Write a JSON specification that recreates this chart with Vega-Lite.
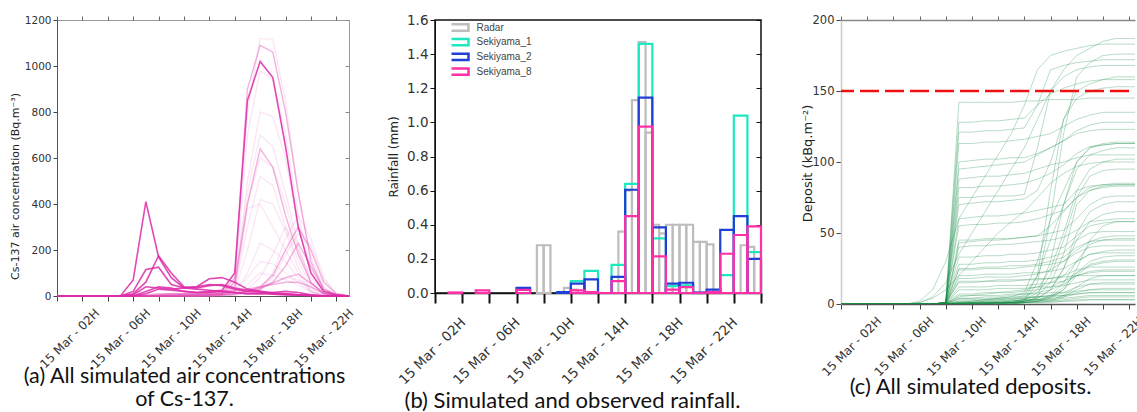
{
"$schema": "https://vega.github.io/schema/vega-lite/v6.json",
"background": "white",
"padding": {"left": 8, "top": 12, "right": 0, "bottom": 0},
"config": {
  "font": "DejaVu Sans",
  "view": {"stroke": null},
  "axis": {"labelFont": "DejaVu Sans", "labelColor": "#333", "titleFont": "DejaVu Sans", "titleColor": "#222", "titleFontWeight": "normal", "grid": false, "labelOverlap": false, "labelFlush": false, "labelBound": false}
},
"datasets": {
"conc": [
{"t":0,"a1":0,"a2":0,"a3":0,"a4":0,"a5":0,"a6":0,"m1":0,"m2":0,"m3":0,"m4":0,"m5":0,"m6":0,"f1":0,"f2":0,"f3":0,"f4":0,"f5":0,"f6":0,"f7":0,"f8":0,"f9":0,"f10":0,"f11":0,"f12":0,"f13":0,"f14":0,"f15":0},
{"t":4,"a1":0,"a2":0,"a3":0,"a4":0,"a5":0,"a6":0,"m1":0,"m2":0,"m3":0,"m4":0,"m5":0,"m6":0,"f1":0,"f2":0,"f3":0,"f4":0,"f5":0,"f6":0,"f7":0,"f8":0,"f9":0,"f10":0,"f11":0,"f12":0,"f13":0,"f14":0,"f15":0},
{"t":5,"a1":0,"a2":0,"a3":0,"a4":0,"a5":0,"a6":0,"m1":0,"m2":0,"m3":0,"m4":0,"m5":0,"m6":0,"f1":0,"f2":0,"f3":0,"f4":0,"f5":0,"f6":0,"f7":0,"f8":0,"f9":0,"f10":0,"f11":0,"f12":0,"f13":0,"f14":0,"f15":0},
{"t":6,"a1":70,"a2":20,"a3":10,"a4":5,"a5":0,"a6":0,"m1":0,"m2":0,"m3":0,"m4":0,"m5":0,"m6":0,"f1":0,"f2":0,"f3":0,"f4":0,"f5":0,"f6":0,"f7":0,"f8":0,"f9":0,"f10":0,"f11":0,"f12":0,"f13":0,"f14":0,"f15":0},
{"t":7,"a1":410,"a2":115,"a3":60,"a4":40,"a5":20,"a6":10,"m1":5,"m2":0,"m3":0,"m4":0,"m5":0,"m6":0,"f1":0,"f2":0,"f3":0,"f4":0,"f5":0,"f6":0,"f7":0,"f8":0,"f9":0,"f10":0,"f11":0,"f12":0,"f13":0,"f14":0,"f15":0},
{"t":8,"a1":170,"a2":125,"a3":175,"a4":35,"a5":40,"a6":30,"m1":10,"m2":5,"m3":0,"m4":0,"m5":0,"m6":5,"f1":0,"f2":0,"f3":0,"f4":0,"f5":0,"f6":0,"f7":0,"f8":0,"f9":0,"f10":0,"f11":0,"f12":0,"f13":0,"f14":0,"f15":0},
{"t":9,"a1":80,"a2":50,"a3":100,"a4":30,"a5":35,"a6":25,"m1":10,"m2":5,"m3":5,"m4":0,"m5":0,"m6":10,"f1":0,"f2":0,"f3":0,"f4":0,"f5":0,"f6":0,"f7":0,"f8":0,"f9":0,"f10":0,"f11":0,"f12":0,"f13":0,"f14":0,"f15":0},
{"t":10,"a1":35,"a2":35,"a3":40,"a4":35,"a5":20,"a6":20,"m1":10,"m2":5,"m3":5,"m4":5,"m5":0,"m6":10,"f1":0,"f2":0,"f3":0,"f4":0,"f5":0,"f6":0,"f7":0,"f8":0,"f9":0,"f10":0,"f11":0,"f12":0,"f13":0,"f14":0,"f15":0},
{"t":11,"a1":30,"a2":40,"a3":35,"a4":40,"a5":15,"a6":15,"m1":10,"m2":5,"m3":5,"m4":5,"m5":5,"m6":10,"f1":0,"f2":0,"f3":0,"f4":0,"f5":0,"f6":0,"f7":0,"f8":0,"f9":0,"f10":0,"f11":0,"f12":0,"f13":0,"f14":0,"f15":0},
{"t":12,"a1":25,"a2":50,"a3":45,"a4":75,"a5":20,"a6":15,"m1":10,"m2":10,"m3":5,"m4":5,"m5":5,"m6":15,"f1":5,"f2":5,"f3":5,"f4":0,"f5":0,"f6":0,"f7":0,"f8":0,"f9":0,"f10":0,"f11":5,"f12":5,"f13":0,"f14":0,"f15":5},
{"t":13,"a1":20,"a2":45,"a3":50,"a4":80,"a5":25,"a6":20,"m1":15,"m2":10,"m3":10,"m4":5,"m5":5,"m6":20,"f1":10,"f2":10,"f3":5,"f4":5,"f5":5,"f6":5,"f7":5,"f8":0,"f9":0,"f10":5,"f11":10,"f12":10,"f13":0,"f14":0,"f15":10},
{"t":14,"a1":15,"a2":30,"a3":35,"a4":60,"a5":100,"a6":15,"m1":80,"m2":60,"m3":15,"m4":10,"m5":10,"m6":25,"f1":60,"f2":50,"f3":40,"f4":30,"f5":20,"f6":20,"f7":15,"f8":5,"f9":5,"f10":10,"f11":40,"f12":20,"f13":5,"f14":5,"f15":30},
{"t":15,"a1":10,"a2":20,"a3":25,"a4":30,"a5":850,"a6":10,"m1":900,"m2":400,"m3":20,"m4":15,"m5":20,"m6":30,"f1":800,"f2":700,"f3":500,"f4":300,"f5":200,"f6":380,"f7":100,"f8":10,"f9":10,"f10":30,"f11":450,"f12":80,"f13":20,"f14":50,"f15":400},
{"t":16,"a1":10,"a2":15,"a3":20,"a4":20,"a5":1020,"a6":10,"m1":1090,"m2":640,"m3":40,"m4":30,"m5":35,"m6":40,"f1":1120,"f2":980,"f3":800,"f4":520,"f5":420,"f6":400,"f7":230,"f8":30,"f9":25,"f10":80,"f11":700,"f12":150,"f13":40,"f14":100,"f15":600},
{"t":17,"a1":8,"a2":10,"a3":15,"a4":10,"a5":950,"a6":15,"m1":1060,"m2":560,"m3":90,"m4":60,"m5":55,"m6":50,"f1":1115,"f2":940,"f3":780,"f4":480,"f5":400,"f6":300,"f7":200,"f8":100,"f9":80,"f10":180,"f11":650,"f12":140,"f13":60,"f14":90,"f15":560},
{"t":18,"a1":5,"a2":8,"a3":10,"a4":8,"a5":650,"a6":20,"m1":800,"m2":350,"m3":200,"m4":130,"m5":80,"m6":60,"f1":850,"f2":700,"f3":600,"f4":300,"f5":280,"f6":200,"f7":150,"f8":250,"f9":180,"f10":300,"f11":450,"f12":100,"f13":80,"f14":70,"f15":400},
{"t":19,"a1":3,"a2":5,"a3":5,"a4":5,"a5":300,"a6":15,"m1":450,"m2":180,"m3":300,"m4":230,"m5":95,"m6":60,"f1":450,"f2":350,"f3":300,"f4":150,"f5":120,"f6":100,"f7":80,"f8":350,"f9":270,"f10":200,"f11":220,"f12":60,"f13":70,"f14":50,"f15":200},
{"t":20,"a1":2,"a2":3,"a3":2,"a4":2,"a5":100,"a6":5,"m1":150,"m2":60,"m3":200,"m4":130,"m5":55,"m6":40,"f1":170,"f2":120,"f3":100,"f4":50,"f5":30,"f6":20,"f7":20,"f8":250,"f9":220,"f10":80,"f11":60,"f12":20,"f13":40,"f14":15,"f15":60},
{"t":21,"a1":1,"a2":1,"a3":0,"a4":0,"a5":20,"a6":0,"m1":30,"m2":10,"m3":60,"m4":30,"m5":15,"m6":10,"f1":40,"f2":25,"f3":20,"f4":10,"f5":5,"f6":0,"f7":0,"f8":80,"f9":70,"f10":20,"f11":10,"f12":5,"f13":10,"f14":0,"f15":10},
{"t":22,"a1":0,"a2":0,"a3":0,"a4":0,"a5":5,"a6":0,"m1":5,"m2":0,"m3":10,"m4":5,"m5":3,"m6":2,"f1":5,"f2":3,"f3":0,"f4":0,"f5":0,"f6":0,"f7":0,"f8":10,"f9":10,"f10":5,"f11":0,"f12":0,"f13":0,"f14":0,"f15":0},
{"t":23,"a1":0,"a2":0,"a3":0,"a4":0,"a5":0,"a6":0,"m1":0,"m2":0,"m3":0,"m4":0,"m5":0,"m6":0,"f1":0,"f2":0,"f3":0,"f4":0,"f5":0,"f6":0,"f7":0,"f8":0,"f9":0,"f10":0,"f11":0,"f12":0,"f13":0,"f14":0,"f15":0}
],
"rain": [
{"s":"Radar","x0":7.5,"x1":8,"v":0.28},{"s":"Radar","x0":8,"x1":8.5,"v":0.28},{"s":"Radar","x0":9.5,"x1":10,"v":0.03},{"s":"Radar","x0":10,"x1":10.5,"v":0.02},
{"s":"Radar","x0":13.5,"x1":14,"v":0.36},{"s":"Radar","x0":14,"x1":14.5,"v":0.6},{"s":"Radar","x0":14.5,"x1":15,"v":1.13},{"s":"Radar","x0":15,"x1":15.5,"v":1.47},{"s":"Radar","x0":15.5,"x1":16,"v":0.94},
{"s":"Radar","x0":16,"x1":16.5,"v":0.4},{"s":"Radar","x0":16.5,"x1":17,"v":0.35},{"s":"Radar","x0":17,"x1":17.5,"v":0.4},{"s":"Radar","x0":17.5,"x1":18,"v":0.4},{"s":"Radar","x0":18,"x1":18.5,"v":0.4},{"s":"Radar","x0":18.5,"x1":19,"v":0.4},
{"s":"Radar","x0":19,"x1":19.5,"v":0.3},{"s":"Radar","x0":19.5,"x1":20,"v":0.3},{"s":"Radar","x0":20,"x1":20.5,"v":0.285},{"s":"Radar","x0":22.5,"x1":23,"v":0.28},{"s":"Radar","x0":23,"x1":23.5,"v":0.27},{"s":"Radar","x0":23.5,"x1":24,"v":0.2},
{"s":"Sekiyama_1","x0":9,"x1":10,"v":0.005},{"s":"Sekiyama_1","x0":10,"x1":11,"v":0.07},{"s":"Sekiyama_1","x0":11,"x1":12,"v":0.13},{"s":"Sekiyama_1","x0":13,"x1":14,"v":0.165},{"s":"Sekiyama_1","x0":14,"x1":15,"v":0.64},{"s":"Sekiyama_1","x0":15,"x1":16,"v":1.46},{"s":"Sekiyama_1","x0":16,"x1":17,"v":0.32},{"s":"Sekiyama_1","x0":17,"x1":18,"v":0.04},{"s":"Sekiyama_1","x0":18,"x1":19,"v":0.045},{"s":"Sekiyama_1","x0":21,"x1":22,"v":0.105},{"s":"Sekiyama_1","x0":22,"x1":23,"v":1.04},{"s":"Sekiyama_1","x0":23,"x1":24,"v":0.24},
{"s":"Sekiyama_2","x0":6,"x1":7,"v":0.03},{"s":"Sekiyama_2","x0":9,"x1":10,"v":0.005},{"s":"Sekiyama_2","x0":10,"x1":11,"v":0.055},{"s":"Sekiyama_2","x0":11,"x1":12,"v":0.08},{"s":"Sekiyama_2","x0":13,"x1":14,"v":0.095},{"s":"Sekiyama_2","x0":14,"x1":15,"v":0.605},{"s":"Sekiyama_2","x0":15,"x1":16,"v":1.145},{"s":"Sekiyama_2","x0":16,"x1":17,"v":0.385},{"s":"Sekiyama_2","x0":17,"x1":18,"v":0.055},{"s":"Sekiyama_2","x0":18,"x1":19,"v":0.06},{"s":"Sekiyama_2","x0":19,"x1":20,"v":0.003},{"s":"Sekiyama_2","x0":20,"x1":21,"v":0.02},{"s":"Sekiyama_2","x0":21,"x1":22,"v":0.37},{"s":"Sekiyama_2","x0":22,"x1":23,"v":0.45},{"s":"Sekiyama_2","x0":23,"x1":24,"v":0.2},
{"s":"Sekiyama_8","x0":1,"x1":2,"v":0.003},{"s":"Sekiyama_8","x0":3,"x1":4,"v":0.015},{"s":"Sekiyama_8","x0":6,"x1":7,"v":0.018},{"s":"Sekiyama_8","x0":10,"x1":11,"v":0.015},{"s":"Sekiyama_8","x0":11,"x1":12,"v":0.005},{"s":"Sekiyama_8","x0":12,"x1":13,"v":0},{"s":"Sekiyama_8","x0":13,"x1":14,"v":0.07},{"s":"Sekiyama_8","x0":14,"x1":15,"v":0.45},{"s":"Sekiyama_8","x0":15,"x1":16,"v":0.975},{"s":"Sekiyama_8","x0":16,"x1":17,"v":0.215},{"s":"Sekiyama_8","x0":17,"x1":18,"v":0.02},{"s":"Sekiyama_8","x0":18,"x1":19,"v":0.035},{"s":"Sekiyama_8","x0":19,"x1":20,"v":0},{"s":"Sekiyama_8","x0":20,"x1":21,"v":0.005},{"s":"Sekiyama_8","x0":21,"x1":22,"v":0.23},{"s":"Sekiyama_8","x0":22,"x1":23,"v":0.34},{"s":"Sekiyama_8","x0":23,"x1":24,"v":0.39}
],
"dep": [
{"t":0,"s1":0,"s2":0,"s3":0,"s4":0,"s5":0,"s6":0,"s7":0,"s8":0,"s9":0,"s10":0,"s11":0,"s12":0,"s13":0,"s14":0,"s15":0,"s16":0,"s17":0,"s18":0,"s19":0,"s20":0,"s21":0,"s22":0,"s23":0,"s24":0,"s25":0,"s26":0,"s27":0,"s28":0,"s29":0,"s30":0,"s31":0,"s32":0,"s33":0,"s34":0,"s35":0,"s36":0,"s37":0,"s38":0,"s39":0,"s40":0,"s41":0,"s42":0,"s43":0,"s44":0,"s45":0,"s46":0,"s47":0,"s48":0,"s49":0,"s50":0,"s51":0,"s52":0,"s53":0,"s54":0,"s55":0,"s56":0},
{"t":4,"s1":0,"s2":0,"s3":0,"s4":0,"s5":0,"s6":0,"s7":0,"s8":0,"s9":0,"s10":0,"s11":0,"s12":0,"s13":0,"s14":0,"s15":0,"s16":0,"s17":0,"s18":0,"s19":0,"s20":0,"s21":0,"s22":0,"s23":0,"s24":0,"s25":0,"s26":0,"s27":0,"s28":0,"s29":0,"s30":0,"s31":0,"s32":0,"s33":0,"s34":0,"s35":0,"s36":0,"s37":0,"s38":0,"s39":0,"s40":0,"s41":0,"s42":0,"s43":0,"s44":0,"s45":0,"s46":0,"s47":0,"s48":0,"s49":0,"s50":0,"s51":0,"s52":0,"s53":0,"s54":0,"s55":0,"s56":0},
{"t":5,"s1":0,"s2":0,"s3":0,"s4":0,"s5":0,"s6":0,"s7":0,"s8":0,"s9":0,"s10":0,"s11":0,"s12":0,"s13":0,"s14":0,"s15":0,"s16":0,"s17":0,"s18":0,"s19":0,"s20":0,"s21":0,"s22":0,"s23":0,"s24":0,"s25":0,"s26":0,"s27":0,"s28":0,"s29":0,"s30":0,"s31":0,"s32":0,"s33":0,"s34":0,"s35":0,"s36":0,"s37":0,"s38":0,"s39":0,"s40":0,"s41":0,"s42":0,"s43":0,"s44":0,"s45":0,"s46":0,"s47":0,"s48":0,"s49":0,"s50":0,"s51":0,"s52":0,"s53":0,"s54":0,"s55":0,"s56":0},
{"t":6,"s1":0,"s2":0,"s3":0,"s4":0,"s5":0,"s6":0,"s7":0,"s8":0,"s9":0,"s10":0,"s11":0,"s12":0,"s13":0,"s14":0,"s15":2,"s16":1,"s17":0,"s18":0,"s19":0,"s20":0,"s21":0,"s22":0,"s23":0,"s24":0,"s25":0,"s26":0,"s27":0,"s28":0,"s29":0,"s30":0,"s31":0,"s32":0,"s33":0,"s34":0,"s35":0,"s36":0,"s37":0,"s38":0,"s39":0,"s40":0,"s41":0,"s42":0,"s43":0,"s44":0,"s45":0,"s46":0,"s47":0,"s48":0,"s49":1,"s50":0,"s51":0,"s52":0,"s53":0,"s54":0,"s55":0,"s56":0},
{"t":7,"s1":0,"s2":0,"s3":0,"s4":0,"s5":0,"s6":0,"s7":0,"s8":0,"s9":0,"s10":0,"s11":0,"s12":0,"s13":0,"s14":0,"s15":10,"s16":5,"s17":0,"s18":0,"s19":0,"s20":0,"s21":0,"s22":0,"s23":0,"s24":0,"s25":0,"s26":0,"s27":0,"s28":0,"s29":0,"s30":0,"s31":0,"s32":0,"s33":0,"s34":0,"s35":0,"s36":0,"s37":0,"s38":0,"s39":0,"s40":0,"s41":0,"s42":0,"s43":0,"s44":0,"s45":0,"s46":0,"s47":0,"s48":0,"s49":4,"s50":0,"s51":0,"s52":0,"s53":0,"s54":0,"s55":0,"s56":0},
{"t":8,"s1":1,"s2":1,"s3":1,"s4":1,"s5":1,"s6":1,"s7":1,"s8":1,"s9":1,"s10":0.5,"s11":0.5,"s12":0.5,"s13":0.3,"s14":0.2,"s15":30,"s16":15,"s17":0,"s18":0,"s19":0,"s20":0,"s21":0,"s22":0,"s23":0,"s24":0,"s25":0.5,"s26":0.5,"s27":0.2,"s28":0.1,"s29":0,"s30":0,"s31":1,"s32":0,"s33":0,"s34":0,"s35":0.5,"s36":0.5,"s37":0,"s38":0,"s39":0.2,"s40":0.1,"s41":1,"s42":1,"s43":0.5,"s44":0.5,"s45":0.3,"s46":0,"s47":0,"s48":0,"s49":10,"s50":0.3,"s51":0.2,"s52":0.1,"s53":1,"s54":1,"s55":0,"s56":0.3},
{"t":8.5,"s1":70,"s2":60,"s3":55,"s4":50,"s5":38,"s6":35,"s7":30,"s8":22,"s9":20,"s10":14,"s11":10,"s12":8,"s13":5,"s14":3,"s15":45,"s16":25,"s17":0,"s18":0,"s19":0,"s20":0,"s21":0,"s22":0,"s23":0,"s24":0,"s25":3,"s26":2,"s27":1,"s28":1,"s29":0.5,"s30":0.2,"s31":48,"s32":0,"s33":0,"s34":0,"s35":20,"s36":12,"s37":0,"s38":0,"s39":2,"s40":1,"s41":44,"s42":28,"s43":17,"s44":12,"s45":6,"s46":0,"s47":0,"s48":0,"s49":15,"s50":9,"s51":4,"s52":2,"s53":65,"s54":40,"s55":0.5,"s56":8},
{"t":9,"s1":142,"s2":121,"s3":113,"s4":100,"s5":75,"s6":70,"s7":60,"s8":45,"s9":40,"s10":28,"s11":20,"s12":15,"s13":10,"s14":6,"s15":60,"s16":35,"s17":1,"s18":1,"s19":0,"s20":0,"s21":0,"s22":0,"s23":0,"s24":0,"s25":5,"s26":4,"s27":2,"s28":1,"s29":1,"s30":0.5,"s31":95,"s32":0,"s33":0,"s34":0,"s35":43,"s36":25,"s37":0,"s38":0,"s39":3,"s40":2,"s41":88,"s42":55,"s43":33,"s44":24,"s45":12,"s46":0,"s47":0,"s48":0,"s49":20,"s50":18,"s51":7,"s52":4,"s53":128,"s54":82,"s55":1,"s56":16},
{"t":10,"s1":142,"s2":121,"s3":113,"s4":101,"s5":75,"s6":71,"s7":61,"s8":45,"s9":41,"s10":28,"s11":20,"s12":15,"s13":10,"s14":6,"s15":75,"s16":50,"s17":2,"s18":1,"s19":1,"s20":1,"s21":0,"s22":0,"s23":0,"s24":0,"s25":6,"s26":4,"s27":2,"s28":1,"s29":1,"s30":0.5,"s31":96,"s32":0,"s33":0,"s34":0,"s35":44,"s36":25,"s37":0,"s38":0,"s39":3,"s40":2,"s41":89,"s42":56,"s43":33,"s44":24,"s45":12,"s46":0,"s47":0,"s48":0,"s49":30,"s50":18,"s51":7,"s52":4,"s53":128,"s54":82,"s55":1,"s56":16},
{"t":11,"s1":142,"s2":122,"s3":114,"s4":102,"s5":76,"s6":72,"s7":62,"s8":46,"s9":41,"s10":29,"s11":21,"s12":16,"s13":10,"s14":6,"s15":90,"s16":65,"s17":3,"s18":2,"s19":1,"s20":1,"s21":1,"s22":0,"s23":0,"s24":0,"s25":7,"s26":5,"s27":3,"s28":2,"s29":1,"s30":0.5,"s31":97,"s32":0,"s33":0,"s34":0,"s35":45,"s36":26,"s37":0,"s38":0,"s39":3,"s40":2,"s41":90,"s42":56,"s43":34,"s44":25,"s45":12,"s46":1,"s47":0,"s48":0,"s49":40,"s50":19,"s51":8,"s52":4,"s53":129,"s54":83,"s55":1,"s56":16},
{"t":12,"s1":142,"s2":122,"s3":114,"s4":102,"s5":76,"s6":72,"s7":62,"s8":46,"s9":42,"s10":29,"s11":21,"s12":16,"s13":11,"s14":6,"s15":105,"s16":80,"s17":4,"s18":3,"s19":2,"s20":1,"s21":1,"s22":1,"s23":0,"s24":0,"s25":8,"s26":5,"s27":3,"s28":2,"s29":1,"s30":1,"s31":98,"s32":0,"s33":0,"s34":0,"s35":45,"s36":26,"s37":1,"s38":0,"s39":4,"s40":2,"s41":90,"s42":57,"s43":34,"s44":25,"s45":13,"s46":1,"s47":1,"s48":0,"s49":50,"s50":19,"s51":8,"s52":4,"s53":129,"s54":83,"s55":1,"s56":17},
{"t":13,"s1":142,"s2":123,"s3":115,"s4":103,"s5":76,"s6":73,"s7":63,"s8":46,"s9":42,"s10":30,"s11":21,"s12":16,"s13":11,"s14":7,"s15":120,"s16":95,"s17":5,"s18":4,"s19":3,"s20":2,"s21":1,"s22":1,"s23":1,"s24":0,"s25":9,"s26":6,"s27":3,"s28":2,"s29":1,"s30":1,"s31":99,"s32":0,"s33":1,"s34":0,"s35":46,"s36":27,"s37":1,"s38":0,"s39":4,"s40":2,"s41":91,"s42":57,"s43":35,"s44":25,"s45":13,"s46":2,"s47":1,"s48":1,"s49":58,"s50":19,"s51":8,"s52":5,"s53":130,"s54":84,"s55":1,"s56":17},
{"t":14,"s1":143,"s2":124,"s3":116,"s4":103,"s5":77,"s6":74,"s7":64,"s8":47,"s9":43,"s10":30,"s11":22,"s12":17,"s13":11,"s14":7,"s15":140,"s16":110,"s17":8,"s18":6,"s19":5,"s20":3,"s21":2,"s22":2,"s23":1,"s24":1,"s25":10,"s26":7,"s27":4,"s28":3,"s29":2,"s30":1,"s31":100,"s32":2,"s33":3,"s34":1,"s35":47,"s36":27,"s37":2,"s38":1,"s39":4,"s40":3,"s41":92,"s42":58,"s43":35,"s44":26,"s45":13,"s46":3,"s47":2,"s48":1,"s49":65,"s50":20,"s51":9,"s52":5,"s53":131,"s54":85,"s55":1,"s56":17},
{"t":15,"s1":143,"s2":140,"s3":118,"s4":106,"s5":110,"s6":80,"s7":66,"s8":48,"s9":44,"s10":31,"s11":22,"s12":17,"s13":12,"s14":7,"s15":165,"s16":130,"s17":30,"s18":20,"s19":10,"s20":6,"s21":4,"s22":3,"s23":2,"s24":1,"s25":12,"s26":8,"s27":5,"s28":3,"s29":2,"s30":1,"s31":105,"s32":15,"s33":20,"s34":5,"s35":48,"s36":28,"s37":3,"s38":2,"s39":5,"s40":3,"s41":95,"s42":60,"s43":36,"s44":27,"s45":14,"s46":8,"s47":4,"s48":2,"s49":75,"s50":21,"s51":10,"s52":5,"s53":140,"s54":88,"s55":2,"s56":18},
{"t":16,"s1":144,"s2":165,"s3":120,"s4":110,"s5":150,"s6":100,"s7":68,"s8":50,"s9":45,"s10":33,"s11":23,"s12":18,"s13":12,"s14":8,"s15":175,"s16":150,"s17":60,"s18":45,"s19":25,"s20":15,"s21":10,"s22":6,"s23":4,"s24":2,"s25":15,"s26":10,"s27":6,"s28":4,"s29":2,"s30":1,"s31":110,"s32":60,"s33":80,"s34":30,"s35":55,"s36":30,"s37":5,"s38":3,"s39":5,"s40":3,"s41":98,"s42":63,"s43":38,"s44":28,"s45":15,"s46":20,"s47":10,"s48":5,"s49":85,"s50":24,"s51":12,"s52":6,"s53":148,"s54":92,"s55":2,"s56":18},
{"t":17,"s1":144,"s2":168,"s3":125,"s4":115,"s5":160,"s6":130,"s7":70,"s8":52,"s9":47,"s10":36,"s11":25,"s12":20,"s13":13,"s14":8,"s15":178,"s16":165,"s17":80,"s18":70,"s19":50,"s20":35,"s21":25,"s22":15,"s23":10,"s24":5,"s25":20,"s26":14,"s27":8,"s28":5,"s29":3,"s30":2,"s31":115,"s32":120,"s33":130,"s34":70,"s35":65,"s36":33,"s37":10,"s38":6,"s39":6,"s40":4,"s41":100,"s42":66,"s43":40,"s44":30,"s45":16,"s46":45,"s47":25,"s48":12,"s49":92,"s50":30,"s51":16,"s52":6,"s53":152,"s54":98,"s55":2,"s56":19},
{"t":18,"s1":144,"s2":170,"s3":130,"s4":122,"s5":165,"s6":150,"s7":80,"s8":60,"s9":52,"s10":45,"s11":30,"s12":24,"s13":15,"s14":9,"s15":180,"s16":175,"s17":100,"s18":95,"s19":80,"s20":70,"s21":50,"s22":30,"s23":20,"s24":10,"s25":30,"s26":20,"s27":12,"s28":7,"s29":4,"s30":2,"s31":120,"s32":160,"s33":145,"s34":100,"s35":75,"s36":40,"s37":25,"s38":12,"s39":8,"s40":5,"s41":103,"s42":75,"s43":48,"s44":36,"s45":20,"s46":75,"s47":45,"s48":22,"s49":97,"s50":38,"s51":22,"s52":7,"s53":155,"s54":106,"s55":3,"s56":20},
{"t":19,"s1":145,"s2":171,"s3":133,"s4":126,"s5":167,"s6":155,"s7":83,"s8":70,"s9":58,"s10":50,"s11":35,"s12":26,"s13":17,"s14":10,"s15":182,"s16":180,"s17":110,"s18":105,"s19":95,"s20":80,"s21":65,"s22":42,"s23":28,"s24":14,"s25":35,"s26":23,"s27":14,"s28":8,"s29":5,"s30":3,"s31":122,"s32":170,"s33":150,"s34":110,"s35":80,"s36":44,"s37":45,"s38":18,"s39":10,"s40":6,"s41":105,"s42":82,"s43":55,"s44":40,"s45":22,"s46":90,"s47":58,"s48":30,"s49":99,"s50":44,"s51":27,"s52":8,"s53":157,"s54":111,"s55":3,"s56":20},
{"t":20,"s1":145,"s2":172,"s3":135,"s4":128,"s5":168,"s6":158,"s7":84,"s8":75,"s9":59,"s10":51,"s11":36,"s12":26,"s13":17,"s14":10,"s15":183,"s16":185,"s17":112,"s18":108,"s19":100,"s20":83,"s21":70,"s22":45,"s23":30,"s24":15,"s25":37,"s26":24,"s27":14,"s28":8,"s29":5,"s30":3,"s31":123,"s32":175,"s33":152,"s34":113,"s35":82,"s36":45,"s37":55,"s38":20,"s39":11,"s40":6,"s41":105,"s42":84,"s43":57,"s44":41,"s45":23,"s46":94,"s47":63,"s48":33,"s49":100,"s50":47,"s51":29,"s52":8,"s53":158,"s54":112,"s55":3,"s56":20},
{"t":21,"s1":145,"s2":172,"s3":135,"s4":128,"s5":168,"s6":160,"s7":84,"s8":76,"s9":60,"s10":51,"s11":36,"s12":26,"s13":17,"s14":10,"s15":183,"s16":187,"s17":113,"s18":110,"s19":102,"s20":84,"s21":72,"s22":46,"s23":31,"s24":15,"s25":38,"s26":24,"s27":14,"s28":8,"s29":5,"s30":3,"s31":123,"s32":176,"s33":153,"s34":114,"s35":83,"s36":45,"s37":58,"s38":20,"s39":11,"s40":6,"s41":105,"s42":85,"s43":58,"s44":41,"s45":23,"s46":95,"s47":65,"s48":34,"s49":100,"s50":48,"s51":30,"s52":8,"s53":158,"s54":113,"s55":3,"s56":20},
{"t":22,"s1":145,"s2":172,"s3":135,"s4":128,"s5":168,"s6":160,"s7":84,"s8":76,"s9":60,"s10":51,"s11":36,"s12":26,"s13":17,"s14":10,"s15":183,"s16":187,"s17":113,"s18":110,"s19":102,"s20":84,"s21":72,"s22":46,"s23":31,"s24":15,"s25":38,"s26":24,"s27":14,"s28":8,"s29":5,"s30":3,"s31":123,"s32":176,"s33":153,"s34":114,"s35":83,"s36":45,"s37":58,"s38":20,"s39":11,"s40":6,"s41":105,"s42":85,"s43":58,"s44":41,"s45":23,"s46":95,"s47":65,"s48":34,"s49":100,"s50":48,"s51":30,"s52":8,"s53":158,"s54":113,"s55":3,"s56":20},
{"t":23,"s1":145,"s2":172,"s3":135,"s4":128,"s5":168,"s6":160,"s7":84,"s8":76,"s9":60,"s10":51,"s11":36,"s12":26,"s13":17,"s14":10,"s15":183,"s16":187,"s17":113,"s18":110,"s19":102,"s20":84,"s21":72,"s22":46,"s23":31,"s24":15,"s25":38,"s26":24,"s27":14,"s28":8,"s29":5,"s30":3,"s31":123,"s32":176,"s33":153,"s34":114,"s35":83,"s36":45,"s37":58,"s38":20,"s39":11,"s40":6,"s41":105,"s42":85,"s43":58,"s44":41,"s45":23,"s46":95,"s47":65,"s48":34,"s49":100,"s50":48,"s51":30,"s52":8,"s53":158,"s54":113,"s55":3,"s56":20}
]
},
"spacing": 86,
"bounds": "flush",
"resolve": {"legend": {"color": "independent"}},
"hconcat": [
{
  "width": 292, "height": 276,
  "view": {"stroke": "#9a9a9a", "strokeWidth": 1},
  "resolve": {"axis": {"x": "independent", "y": "independent"}},
  "layer": [
    {"data": {"name": "conc"},
     "transform": [{"fold": ["f1","f2","f3","f4","f5","f6","f7","f8","f9","f10","f11","f12","f13","f14","f15"], "as": ["run","v"]}],
     "mark": {"type": "line", "color": "#e45cbe", "opacity": 0.15, "strokeWidth": 1.4},
     "encoding": {
       "x": {"field": "t", "type": "quantitative", "scale": {"domain": [0, 23], "nice": false},
             "axis": {"values": [0,2,4,6,8,10,12,14,16,18,20,22], "labelExpr": "datum.value % 4 == 2 ? '15 Mar - ' + (datum.value < 10 ? '0' : '') + datum.value + 'H' : ''",
                      "labelAngle": -45, "labelAlign": "right", "labelBaseline": "top", "labelFontSize": 12, "labelPadding": 6, "labelOffset": 11,
                      "tickSize": 5, "tickColor": "#444", "domainColor": "#555",
                      "title": ["(a) All simulated air concentrations", "of Cs-137."], "titleFont": "Lato", "titleFontSize": 21.5, "titleColor": "#111",
                      "titleX": 127, "titleY": 80, "titleAlign": "center", "titleBaseline": "middle", "titleLineHeight": 23, "titleAngle": 0}},
       "y": {"field": "v", "type": "quantitative", "scale": {"domain": [0, 1200], "nice": false},
             "axis": {"values": [0,200,400,600,800,1000,1200], "format": "d", "labelFontSize": 10.5, "tickSize": 4, "tickColor": "#444", "domainColor": "#555",
                      "title": "Cs-137 air concentration (Bq.m⁻³)", "titleFontSize": 11, "titleX": -42, "titleY": 166, "titleAngle": 270, "titleAlign": "center", "titleBaseline": "middle"}},
       "detail": {"field": "run"}
     }},
    {"data": {"name": "conc"},
     "transform": [{"fold": ["m1","m2","m3","m4","m5","m6"], "as": ["run","v"]}],
     "mark": {"type": "line", "color": "#e040b0", "opacity": 0.4, "strokeWidth": 1.4},
     "encoding": {
       "x": {"field": "t", "type": "quantitative", "axis": null},
       "y": {"field": "v", "type": "quantitative", "axis": null},
       "detail": {"field": "run"}
     }},
    {"data": {"name": "conc"},
     "transform": [{"fold": ["a1","a2","a3","a4","a5","a6"], "as": ["run","v"]}],
     "mark": {"type": "line", "color": "#dd2aa8", "opacity": 0.85, "strokeWidth": 1.6},
     "encoding": {
       "x": {"field": "t", "type": "quantitative", "axis": null},
       "y": {"field": "v", "type": "quantitative", "axis": null},
       "detail": {"field": "run"}
     }},
    {"data": {"name": "conc"},
     "mark": {"type": "point", "opacity": 0},
     "encoding": {
       "x": {"field": "t", "type": "quantitative", "axis": {"orient": "top", "values": [0,2,4,6,8,10,12,14,16,18,20,22], "labels": false, "tickSize": 4, "tickColor": "#666", "domain": false, "title": null}},
       "y": {"field": "a1", "type": "quantitative", "axis": {"orient": "right", "values": [0,200,400,600,800,1000,1200], "labels": false, "tickSize": -4, "tickColor": "#888", "domain": false, "title": null}}
     }}
  ]
},
{
  "spacing": 80,
  "bounds": "flush",
  "resolve": {"legend": {"color": "independent"}},
  "hconcat": [
  {
    "width": 326, "height": 273,
    "view": {"stroke": "#111", "strokeWidth": 1.5},
    "resolve": {"axis": {"y": "independent"}},
    "layer": [
      {"data": {"name": "rain"},
       "mark": {"type": "rect", "filled": false, "strokeWidth": 2.2},
       "encoding": {
         "x": {"field": "x0", "type": "quantitative", "scale": {"domain": [0, 24], "nice": false},
               "axis": {"values": [0,2,4,6,8,10,12,14,16,18,20,22,24], "labelExpr": "datum.value % 4 == 2 ? '15 Mar - ' + (datum.value < 10 ? '0' : '') + datum.value + 'H' : ''",
                        "labelAngle": -45, "labelAlign": "right", "labelBaseline": "top", "labelFontSize": 13.5, "labelPadding": 12, "labelOffset": -4,
                        "tickSize": 10, "tickWidth": 2, "tickColor": "#111", "domainColor": "#111", "domainWidth": 1.5,
                        "title": "(b) Simulated and observed rainfall.", "titleFont": "Lato", "titleFontSize": 22, "titleColor": "#111",
                        "titleX": 137, "titleY": 107, "titleAlign": "center", "titleBaseline": "middle"}},
         "x2": {"field": "x1"},
         "y": {"field": "v", "type": "quantitative", "scale": {"domain": [0, 1.6], "nice": false},
               "axis": {"values": [0,0.2,0.4,0.6,0.8,1.0,1.2,1.4,1.6], "format": ".1f", "labelFontSize": 13.5, "tickSize": 5, "tickColor": "#111", "domainColor": "#111",
                        "title": "Rainfall (mm)", "titleFontSize": 12, "titlePadding": 6}},
         "y2": {"datum": 0},
         "color": {"field": "s", "type": "nominal",
                   "scale": {"domain": ["Radar","Sekiyama_1","Sekiyama_2","Sekiyama_8"], "range": ["#bdbdbd","#1de8c0","#1f3fd6","#ff2fa8"]},
                   "legend": {"orient": "none", "legendX": 16.5, "legendY": 1, "title": null, "padding": 0, "symbolType": "M-2.1,-0.63L2.1,-0.63L2.1,0.63L-2.1,0.63Z", "symbolSize": 100, "symbolStrokeWidth": 2.5,
                              "labelFont": "Liberation Sans", "labelFontSize": 10, "labelColor": "#444", "labelOffset": 12, "clipHeight": 13, "rowPadding": 1.7}}
       }},
      {"data": {"name": "rain"},
       "mark": {"type": "point", "opacity": 0},
       "encoding": {
         "y": {"field": "v", "type": "quantitative", "axis": {"orient": "right", "values": [0,0.2,0.4,0.6,0.8,1.0,1.2,1.4,1.6], "labels": false, "tickSize": -5, "tickColor": "#111", "domain": false, "title": null}}
       }}
    ]
  },
  {
    "width": 294, "height": 284,
    "resolve": {"axis": {"x": "independent"}},
    "layer": [
      {"data": {"name": "dep"},
       "transform": [{"fold": ["s1","s2","s3","s4","s5","s6","s7","s8","s9","s10","s11","s12","s13","s14","s15","s16","s17","s18","s19","s20","s21","s22","s23","s24","s25","s26","s27","s28","s29","s30","s31","s32","s33","s34","s35","s36","s37","s38","s39","s40","s41","s42","s43","s44","s45","s46","s47","s48","s49","s50","s51","s52","s53","s54","s55","s56"], "as": ["run","v"]}],
       "mark": {"type": "line", "color": "#178a44", "opacity": 0.3, "strokeWidth": 1, "clip": true},
       "encoding": {
         "x": {"field": "t", "type": "quantitative", "scale": {"domain": [0, 22.45], "nice": false},
               "axis": {"values": [0,2,4,6,8,10,12,14,16,18,20,22], "labelExpr": "datum.value % 4 == 2 ? '15 Mar - ' + (datum.value < 10 ? '0' : '') + datum.value + 'H' : ''",
                        "labelAngle": -45, "labelAlign": "right", "labelBaseline": "top", "labelFontSize": 12, "labelPadding": 6, "labelOffset": 8,
                        "tickSize": 5, "tickColor": "#444", "domainColor": "#555", "domainWidth": 1.5,
                        "title": "(c) All simulated deposits.", "titleFont": "Lato", "titleFontSize": 22, "titleColor": "#111",
                        "titleX": 129, "titleY": 82, "titleAlign": "center", "titleBaseline": "middle"}},
         "y": {"field": "v", "type": "quantitative", "scale": {"domain": [0, 200], "nice": false},
               "axis": {"values": [0,50,100,150,200], "labelFontSize": 11.5, "tickSize": 5, "tickColor": "#444", "domainColor": "#cccccc", "domainWidth": 1.5,
                        "title": "Deposit (kBq.m⁻²)", "titleFontSize": 13, "titleX": -34, "titleY": 143, "titleAngle": 270, "titleAlign": "center", "titleBaseline": "middle"}},
         "detail": {"field": "run"}
       }},
      {"data": {"values": [{}]},
       "mark": {"type": "rule", "color": "#ee1111", "strokeWidth": 2.5, "strokeDash": [19, 6], "strokeDashOffset": 19},
       "encoding": {"y": {"datum": 150}}},
      {"data": {"name": "dep"},
       "mark": {"type": "point", "opacity": 0},
       "encoding": {
         "x": {"field": "t", "type": "quantitative", "axis": {"orient": "top", "values": [0,2,4,6,8,10,12,14,16,18,20,22], "labels": false, "tickSize": 4, "tickColor": "#666", "domainColor": "#888", "domainWidth": 1.5, "title": null}}
       }}
    ]
  }
  ]
}
]
}
